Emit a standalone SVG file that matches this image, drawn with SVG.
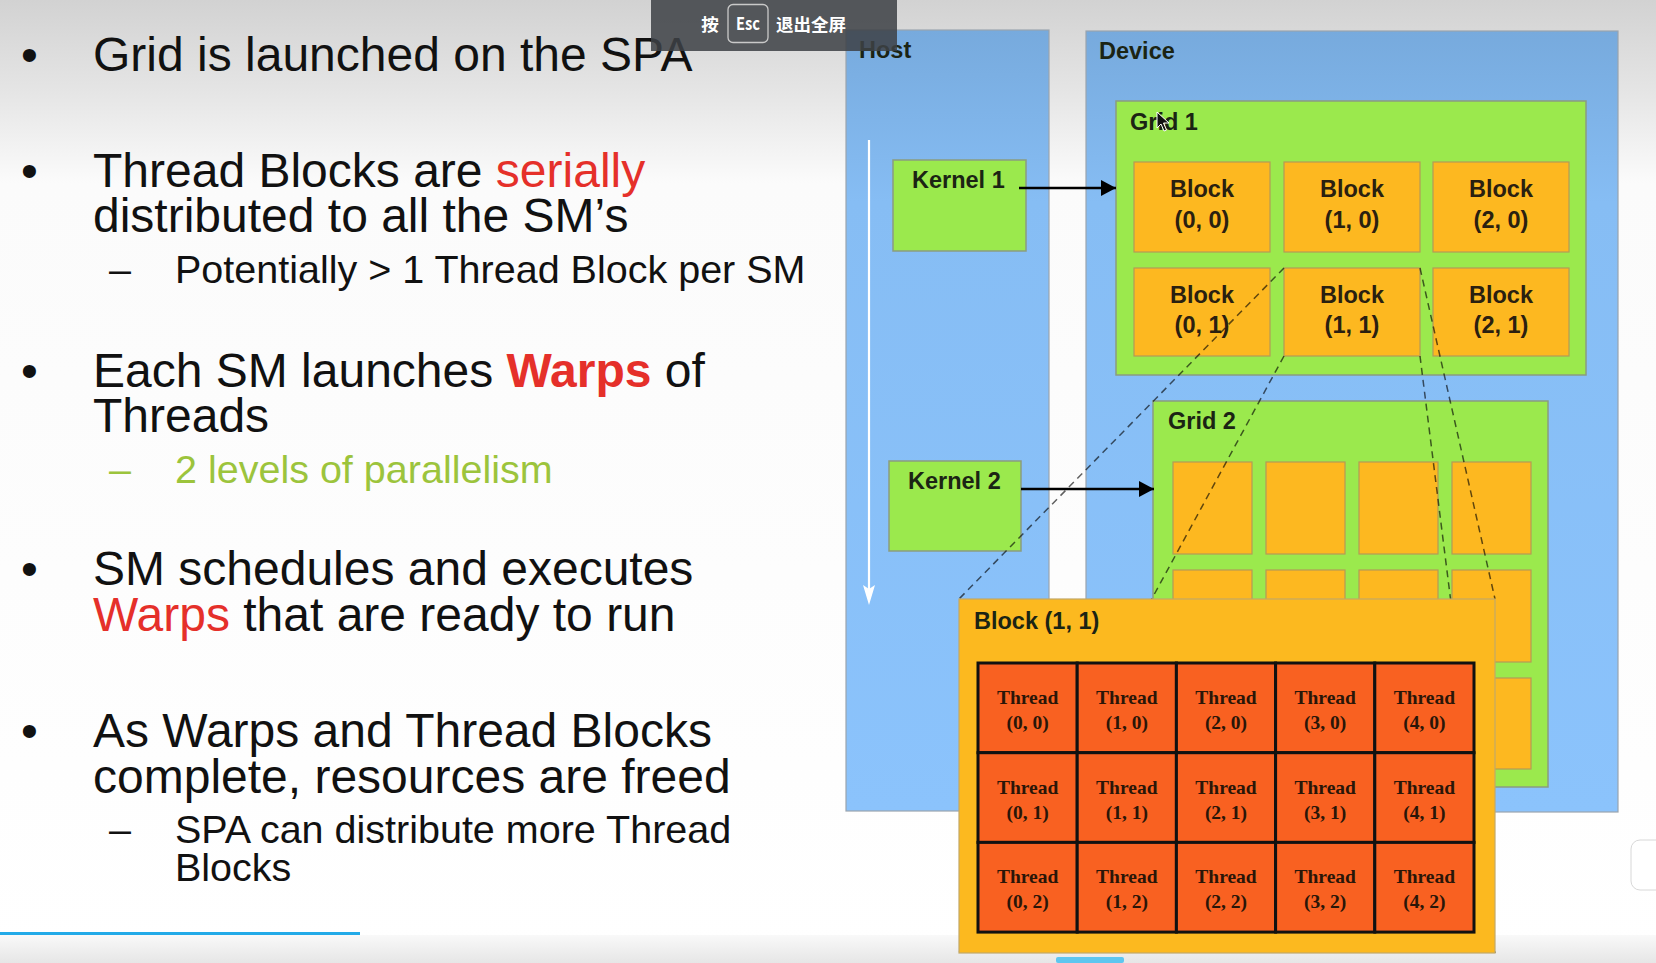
<svg xmlns="http://www.w3.org/2000/svg" width="1656" height="963" viewBox="0 0 1656 963">
<style>
.bt{font-family:"Liberation Sans",Arial,sans-serif;font-size:48px;fill:#111}
.sb{font-family:"Liberation Sans",Arial,sans-serif;font-size:39.5px;fill:#111}
.red{fill:#e5302a}
.grn{fill:#9cc43c}
.lbl{font-family:"Liberation Sans",Arial,sans-serif;font-size:23.5px;font-weight:bold;fill:#1b2414}
.blk{font-family:"Liberation Sans",Arial,sans-serif;font-size:23.5px;font-weight:bold;fill:#2a2010;text-anchor:middle}
.thr{font-family:"Liberation Serif","Times New Roman",serif;font-size:19.5px;font-weight:bold;fill:#2a1608;text-anchor:middle}
.gbox{fill:#9be94d;stroke:#8a9c80;stroke-width:1.5}
.obox{fill:#fdb820;stroke:#b49a58;stroke-width:1.2}
.cell{fill:#f96121;stroke:#111;stroke-width:3}
.dash{stroke:#000;stroke-opacity:0.62;stroke-width:1.5;stroke-dasharray:7 5;fill:none}
.arr{stroke:#000;stroke-width:2.6;fill:none}
.ov{font-family:"Noto Sans CJK SC","Liberation Sans",sans-serif;font-size:17.5px;font-weight:bold;fill:#fff}
</style>
<defs>
<linearGradient id="bg" x1="0" y1="0" x2="0" y2="1">
<stop offset="0" stop-color="#d2d2d2"/>
<stop offset="0.1" stop-color="#e6e6e6"/>
<stop offset="0.19" stop-color="#fbfbfb"/>
<stop offset="1" stop-color="#ffffff"/>
</linearGradient>
<linearGradient id="bot" x1="0" y1="0" x2="0" y2="1">
<stop offset="0" stop-color="#f9f9f9"/>
<stop offset="1" stop-color="#e6e6e6"/>
</linearGradient>
<linearGradient id="panel" x1="0" y1="0" x2="0" y2="1">
<stop offset="0" stop-color="#77aadd"/>
<stop offset="0.22" stop-color="#86bdf4"/>
<stop offset="1" stop-color="#8bc3fc"/>
</linearGradient>
<marker id="ah" markerUnits="userSpaceOnUse" markerWidth="16" markerHeight="17" refX="15" refY="8" orient="auto">
<path d="M0,0 L15,8 L0,16 z" fill="#000"/>
</marker>
</defs>

<rect x="0" y="0" width="1656" height="963" fill="url(#bg)"/>
<rect x="0" y="935" width="1656" height="28" fill="url(#bot)"/>
<rect x="0" y="932" width="360" height="3" fill="#22aae8"/>
<rect x="1056" y="957" width="68" height="6" rx="2" fill="#5ec6ef"/>

<g id="text-left">
<text class="bt" x="21" y="71">•</text>
<text class="bt" x="93" y="71">Grid is launched on the SPA</text>
<text class="bt" x="21" y="187">•</text>
<text class="bt" x="93" y="187">Thread Blocks are <tspan class="red">serially</tspan></text>
<text class="bt" x="93" y="232">distributed to all the SM’s</text>
<text class="sb" x="109" y="283">–</text>
<text class="sb" x="175" y="283">Potentially &gt; 1 Thread Block per SM</text>
<text class="bt" x="21" y="387">•</text>
<text class="bt" x="93" y="387">Each SM launches <tspan class="red" font-weight="bold">Warps</tspan> of</text>
<text class="bt" x="93" y="432">Threads</text>
<text class="sb grn" x="109" y="483">–</text>
<text class="sb grn" x="175" y="483">2 levels of parallelism</text>
<text class="bt" x="21" y="585">•</text>
<text class="bt" x="93" y="585">SM schedules and executes</text>
<text class="bt" x="93" y="631"><tspan class="red">Warps</tspan> that are ready to run</text>
<text class="bt" x="21" y="747">•</text>
<text class="bt" x="93" y="747">As Warps and Thread Blocks</text>
<text class="bt" x="93" y="793">complete, resources are freed</text>
<text class="sb" x="109" y="843">–</text>
<text class="sb" x="175" y="843">SPA can distribute more Thread</text>
<text class="sb" x="175" y="881">Blocks</text>
</g>

<g id="host">
<rect x="846" y="30" width="203" height="781" fill="url(#panel)" stroke="#9aa4ae" stroke-width="1.2"/>
<text class="lbl" x="859" y="58">Host</text>
</g>
<g id="device">
<rect x="1086" y="31" width="532" height="781" fill="url(#panel)" stroke="#9aa4ae" stroke-width="1.2"/>
<text class="lbl" x="1099" y="59">Device</text>
</g>

<g id="kernel1">
<rect class="gbox" x="893" y="160" width="133" height="91"/>
<text class="lbl" x="912" y="188">Kernel 1</text>
</g>
<g id="kernel2">
<rect class="gbox" x="889" y="461" width="132" height="90"/>
<text class="lbl" x="908" y="489">Kernel 2</text>
</g>

<g id="grid1">
<rect class="gbox" x="1116" y="101" width="470" height="274"/>
<text class="lbl" x="1130" y="130">Grid 1</text>
<g id="block-0-0"><rect class="obox" x="1134" y="162" width="136" height="90"/><text class="blk" x="1202" y="197">Block</text><text class="blk" x="1202" y="228">(0, 0)</text></g>
<g id="block-1-0"><rect class="obox" x="1284" y="162" width="136" height="90"/><text class="blk" x="1352" y="197">Block</text><text class="blk" x="1352" y="228">(1, 0)</text></g>
<g id="block-2-0"><rect class="obox" x="1433" y="162" width="136" height="90"/><text class="blk" x="1501" y="197">Block</text><text class="blk" x="1501" y="228">(2, 0)</text></g>
<g id="block-0-1"><rect class="obox" x="1134" y="268" width="136" height="88"/><text class="blk" x="1202" y="303">Block</text><text class="blk" x="1202" y="333">(0, 1)</text></g>
<g id="block-1-1"><rect class="obox" x="1284" y="268" width="136" height="88"/><text class="blk" x="1352" y="303">Block</text><text class="blk" x="1352" y="333">(1, 1)</text></g>
<g id="block-2-1"><rect class="obox" x="1433" y="268" width="136" height="88"/><text class="blk" x="1501" y="303">Block</text><text class="blk" x="1501" y="333">(2, 1)</text></g>
</g>

<g id="grid2">
<rect class="gbox" x="1153" y="401" width="395" height="386"/>
<text class="lbl" x="1168" y="429">Grid 2</text>
<rect class="obox" x="1173" y="462" width="79" height="92"/>
<rect class="obox" x="1266" y="462" width="79" height="92"/>
<rect class="obox" x="1359" y="462" width="79" height="92"/>
<rect class="obox" x="1452" y="462" width="79" height="92"/>
<rect class="obox" x="1173" y="570" width="79" height="92"/>
<rect class="obox" x="1266" y="570" width="79" height="92"/>
<rect class="obox" x="1359" y="570" width="79" height="92"/>
<rect class="obox" x="1452" y="570" width="79" height="92"/>
<rect class="obox" x="1173" y="678" width="79" height="91"/>
<rect class="obox" x="1266" y="678" width="79" height="91"/>
<rect class="obox" x="1359" y="678" width="79" height="91"/>
<rect class="obox" x="1452" y="678" width="79" height="91"/>
</g>

<g id="connectors">
<line x1="869" y1="140" x2="869" y2="590" stroke="#fff" stroke-width="2.2"/>
<path d="M863,585 L869,605 L875,585 L869,589 z" fill="#fff"/>
<line class="arr" x1="1019" y1="188" x2="1116" y2="188" marker-end="url(#ah)"/>
<line class="arr" x1="1021" y1="489" x2="1154" y2="489" marker-end="url(#ah)"/>
<line class="dash" x1="1284" y1="268" x2="959" y2="599"/>
<line class="dash" x1="1284" y1="356" x2="959" y2="953"/>
<line class="dash" x1="1420" y1="268" x2="1495" y2="599"/>
<line class="dash" x1="1420" y1="356" x2="1495" y2="953"/>
</g>

<g id="block-1-1-detail">
<rect x="959" y="599" width="536" height="354" fill="#fcb91f" stroke="#c2a868" stroke-width="1.2"/>
<text class="lbl" x="974" y="629" fill="#1e1a0c">Block (1, 1)</text>
<g id="threads">
<rect class="cell" x="978" y="663" width="99.2" height="89.7"/>
<rect class="cell" x="1077.2" y="663" width="99.2" height="89.7"/>
<rect class="cell" x="1176.4" y="663" width="99.2" height="89.7"/>
<rect class="cell" x="1275.6" y="663" width="99.2" height="89.7"/>
<rect class="cell" x="1374.8" y="663" width="99.2" height="89.7"/>
<rect class="cell" x="978" y="752.7" width="99.2" height="89.7"/>
<rect class="cell" x="1077.2" y="752.7" width="99.2" height="89.7"/>
<rect class="cell" x="1176.4" y="752.7" width="99.2" height="89.7"/>
<rect class="cell" x="1275.6" y="752.7" width="99.2" height="89.7"/>
<rect class="cell" x="1374.8" y="752.7" width="99.2" height="89.7"/>
<rect class="cell" x="978" y="842.4" width="99.2" height="89.7"/>
<rect class="cell" x="1077.2" y="842.4" width="99.2" height="89.7"/>
<rect class="cell" x="1176.4" y="842.4" width="99.2" height="89.7"/>
<rect class="cell" x="1275.6" y="842.4" width="99.2" height="89.7"/>
<rect class="cell" x="1374.8" y="842.4" width="99.2" height="89.7"/>
<text class="thr" x="1027.6" y="704">Thread</text><text class="thr" x="1027.6" y="729">(0, 0)</text>
<text class="thr" x="1126.8" y="704">Thread</text><text class="thr" x="1126.8" y="729">(1, 0)</text>
<text class="thr" x="1226" y="704">Thread</text><text class="thr" x="1226" y="729">(2, 0)</text>
<text class="thr" x="1325.2" y="704">Thread</text><text class="thr" x="1325.2" y="729">(3, 0)</text>
<text class="thr" x="1424.4" y="704">Thread</text><text class="thr" x="1424.4" y="729">(4, 0)</text>
<text class="thr" x="1027.6" y="793.5">Thread</text><text class="thr" x="1027.6" y="818.5">(0, 1)</text>
<text class="thr" x="1126.8" y="793.5">Thread</text><text class="thr" x="1126.8" y="818.5">(1, 1)</text>
<text class="thr" x="1226" y="793.5">Thread</text><text class="thr" x="1226" y="818.5">(2, 1)</text>
<text class="thr" x="1325.2" y="793.5">Thread</text><text class="thr" x="1325.2" y="818.5">(3, 1)</text>
<text class="thr" x="1424.4" y="793.5">Thread</text><text class="thr" x="1424.4" y="818.5">(4, 1)</text>
<text class="thr" x="1027.6" y="883">Thread</text><text class="thr" x="1027.6" y="908">(0, 2)</text>
<text class="thr" x="1126.8" y="883">Thread</text><text class="thr" x="1126.8" y="908">(1, 2)</text>
<text class="thr" x="1226" y="883">Thread</text><text class="thr" x="1226" y="908">(2, 2)</text>
<text class="thr" x="1325.2" y="883">Thread</text><text class="thr" x="1325.2" y="908">(3, 2)</text>
<text class="thr" x="1424.4" y="883">Thread</text><text class="thr" x="1424.4" y="908">(4, 2)</text>
</g>
</g>

<path d="M1157,112 L1157,128 L1161,124 L1164,131 L1166.5,130 L1163.5,123 L1169,123 z" fill="#111" stroke="#fff" stroke-width="1"/>

<g id="side-button">
<rect x="1631" y="840" width="40" height="50" rx="9" fill="#fff" stroke="#d8d8d8" stroke-width="1"/>
</g>

<g id="esc-overlay">
<rect x="651" y="0" width="246" height="51" fill="#3e4146" fill-opacity="0.86"/>
<text class="ov" x="710" y="31" text-anchor="middle">按</text>
<rect x="728" y="4.5" width="40" height="38" rx="5" fill="none" stroke="#c9c9c9" stroke-width="1.3"/>
<text class="ov" x="736" y="30" font-family="Liberation Sans,sans-serif" font-size="17" textLength="24" lengthAdjust="spacingAndGlyphs">Esc</text>
<text class="ov" x="776" y="31">退出全屏</text>
</g>
</svg>
